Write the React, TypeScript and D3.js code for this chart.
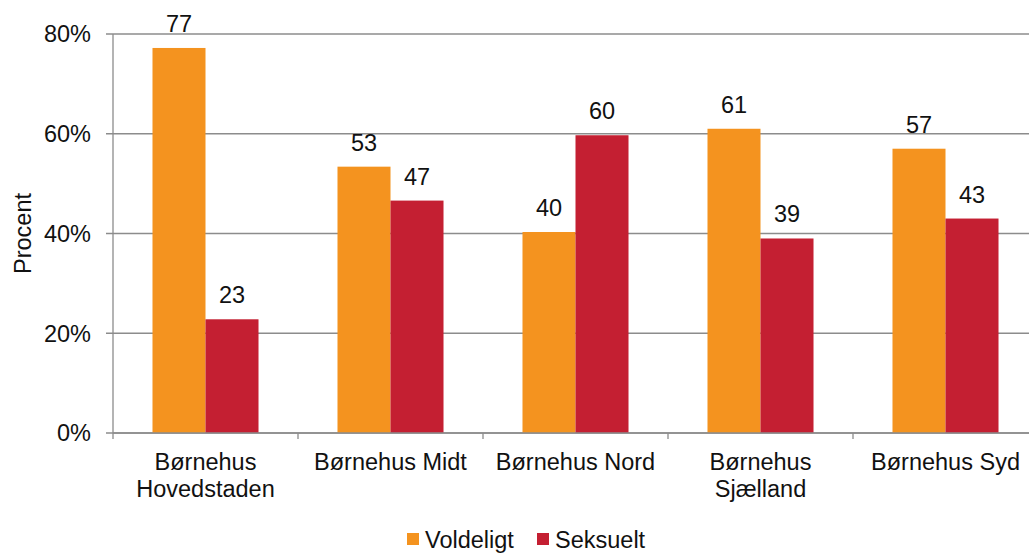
import React from "react";
import * as d3 from "d3";

// data
const categories = [
  ["Børnehus", "Hovedstaden"],
  ["Børnehus Midt"],
  ["Børnehus Nord"],
  ["Børnehus", "Sjælland"],
  ["Børnehus Syd"],
];
const seriesNames = ["Voldeligt", "Seksuelt"];
const voldeligt = [77.2, 53.4, 40.3, 61.0, 57.0];
const seksuelt = [22.8, 46.6, 59.7, 39.0, 43.0];
const yTicks = [0, 20, 40, 60, 80];

const colors = ["#F4931F", "#C41F32"];
const font = "'Liberation Sans', Arial, sans-serif";
const fs = 23.5;

export default function App() {
  const width = 1029;
  const height = 554;
  const left = 113;
  const top = 34;
  const bottom = 433;
  const step = 185;

  React.useEffect(() => {
    document.body.style.margin = "0";
  }, []);

  const keys = categories.map(c => c.join(" "));
  const x = d3.scaleBand().domain(keys).range([left, left + step * keys.length]).padding(0);
  const xs = d3.scaleBand().domain(seriesNames).range([0, x.bandwidth()]).paddingInner(0).paddingOuter(0.745);
  const y = d3.scaleLinear().domain([0, 80]).range([bottom, top]);
  const values = [voldeligt, seksuelt];

  const grid = "#8C8C8C";

  return (
    <svg width={width} height={height} style={{display: "block", fontFamily: font}}>
      {yTicks.map(t => (
        <g key={t}>
          <line x1={left - 7} x2={width} y1={y(t)} y2={y(t)} stroke={grid} strokeWidth={1.3}/>
          <text x={91} y={y(t)} dy="0.36em" textAnchor="end" fontSize={fs} fill="#111">{t}%</text>
        </g>
      ))}
      <line x1={left} x2={left} y1={top} y2={bottom} stroke={grid} strokeWidth={1.3}/>
      <text transform={`translate(31,${(top + bottom) / 2}) rotate(-90)`} textAnchor="middle"
            fontSize={fs} fill="#111">Procent</text>

      {keys.map((k, i) => (
        <g key={k}>
          {seriesNames.map((s, j) => {
            const v = values[j][i];
            const bx = x(k)! + xs(s)!;
            const cx = bx + xs.bandwidth() / 2;
            return (
              <g key={s}>
                <rect x={bx} y={y(v)} width={xs.bandwidth()} height={bottom - y(v)} fill={colors[j]}/>
                <text x={cx} y={y(v) - 16} textAnchor="middle" fontSize={fs} fill="#111">
                  {Math.round(v)}
                </text>
              </g>
            );
          })}
        </g>
      ))}

      <line x1={left} x2={width} y1={bottom} y2={bottom} stroke={grid} strokeWidth={1.3}/>
      {keys.map((k, i) => (
        <g key={k}>
          <line x1={x(k)!} x2={x(k)!} y1={bottom} y2={bottom + 6} stroke={grid} strokeWidth={1.3}/>
          {categories[i].map((line, li) => (
            <text key={li} x={x(k)! + x.bandwidth() / 2} y={470 + li * 27} textAnchor="middle"
                  fontSize={fs} fill="#111">{line}</text>
          ))}
        </g>
      ))}
      <line x1={x.range()[1]} x2={x.range()[1]} y1={bottom} y2={bottom + 6} stroke={grid} strokeWidth={1.3}/>

      {seriesNames.map((s, j) => {
        const lx = [407, 537][j];
        return (
          <g key={s}>
            <rect x={lx} y={533} width={12} height={12} fill={colors[j]}/>
            <text x={lx + 18} y={547.5} fontSize={fs} fill="#111">{s}</text>
          </g>
        );
      })}
    </svg>
  );
}
